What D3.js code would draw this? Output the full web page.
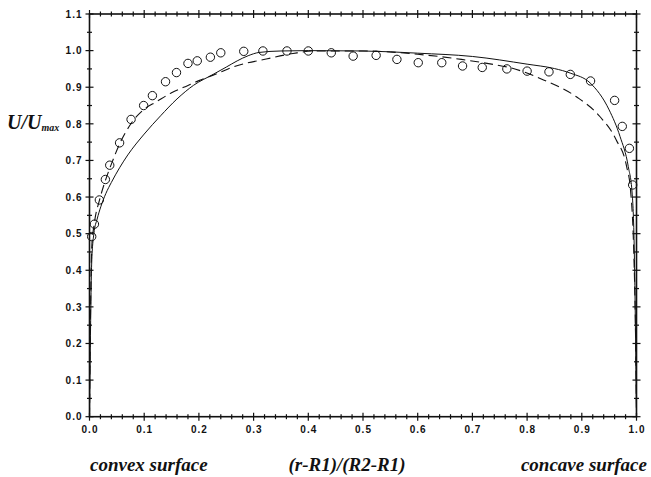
<!DOCTYPE html>
<html>
<head>
<meta charset="utf-8">
<script src="https://cdn.jsdelivr.net/npm/d3@7"></script>
<style>
  body { margin: 0; background: #fff; }
  .tick text { font-family: "Liberation Sans", Arial, sans-serif; font-size: 10px; font-weight: bold; letter-spacing: 1px; fill: #111; }
  .ttl { font-family: "Liberation Serif", "Times New Roman", serif; font-weight: bold; font-style: italic; fill: #111; }
</style>
</head>
<body>
<svg width="651" height="477"></svg>
<script>
const svg = d3.select("svg");

// measured points (circles)
const circX = [0.004, 0.009, 0.018, 0.029, 0.037, 0.055, 0.076, 0.099, 0.115, 0.139, 0.159, 0.180,
  0.197, 0.221, 0.240, 0.282, 0.317, 0.361, 0.400, 0.442, 0.482, 0.524, 0.562, 0.601, 0.644,
  0.682, 0.718, 0.763, 0.800, 0.840, 0.879, 0.916, 0.960, 0.974, 0.987, 0.993];
const circY = [0.492, 0.526, 0.592, 0.648, 0.687, 0.748, 0.812, 0.850, 0.877, 0.915, 0.940, 0.965,
  0.972, 0.982, 0.994, 0.998, 0.999, 0.999, 0.999, 0.994, 0.985, 0.987, 0.976, 0.967, 0.967,
  0.958, 0.954, 0.950, 0.944, 0.942, 0.935, 0.917, 0.864, 0.793, 0.733, 0.633];

// solid curve
const solidX = [0, 0.002, 0.004, 0.008, 0.014, 0.021, 0.03, 0.04, 0.055, 0.07, 0.1, 0.13, 0.16,
  0.19, 0.226, 0.25, 0.27, 0.29, 0.31, 0.35, 0.4, 0.5, 0.6, 0.7, 0.8, 0.85, 0.88, 0.915, 0.95,
  0.97, 0.985, 0.992, 0.996, 0.998, 1.0];
const solidY = [0, 0.25, 0.42, 0.50, 0.54, 0.575, 0.61, 0.64, 0.68, 0.715, 0.772, 0.822, 0.868,
  0.905, 0.935, 0.955, 0.972, 0.986, 0.995, 0.999, 1.0, 0.999, 0.993, 0.984, 0.963, 0.951, 0.938,
  0.912, 0.838, 0.765, 0.683, 0.611, 0.45, 0.25, 0];

// dashed curve
const dashX = [0, 0.002, 0.004, 0.009, 0.018, 0.029, 0.04, 0.055, 0.078, 0.1, 0.122, 0.15, 0.18,
  0.2, 0.226, 0.268, 0.323, 0.372, 0.41, 0.5, 0.6, 0.68, 0.735, 0.77, 0.83, 0.89, 0.933, 0.963,
  0.982, 0.989, 0.995, 0.998, 1.0];
const dashY = [0, 0.3, 0.46, 0.53, 0.59, 0.645, 0.69, 0.745, 0.805, 0.84, 0.86, 0.885, 0.905,
  0.918, 0.933, 0.958, 0.977, 0.992, 0.999, 0.999, 0.99, 0.976, 0.963, 0.953, 0.92, 0.874, 0.82,
  0.756, 0.683, 0.62, 0.45, 0.25, 0];

const xMajor = d3.range(0, 11).map(d => d / 10);
const xMinor = d3.range(0, 51).map(d => d / 50).filter((d, i) => i % 5 !== 0);
const yMajor = d3.range(0, 12).map(d => d / 10);
const yMinor = d3.range(0, 22).map(d => d / 20).filter((d, i) => i % 2 !== 0);

const x = d3.scaleLinear().domain([0, 1]).range([89.5, 636.5]);
const y = d3.scaleLinear().domain([0, 1.1]).range([416.7, 14]);

const black = "#111";

// frame
svg.append("rect")
  .attr("x", x(0)).attr("y", y(1.1))
  .attr("width", x(1) - x(0)).attr("height", y(0) - y(1.1))
  .attr("fill", "none").attr("stroke", black).attr("stroke-width", 1.6);

// crossing ticks, all four sides
function crossTicks(vals, len, horiz) {
  const g = svg.append("g").attr("stroke", black).attr("stroke-width", 1.2);
  if (horiz) {
    [y(0), y(1.1)].forEach(yy => {
      g.selectAll(null).data(vals).join("line")
        .attr("x1", d => x(d)).attr("x2", d => x(d))
        .attr("y1", yy - len).attr("y2", yy + len);
    });
  } else {
    [x(0), x(1)].forEach(xx => {
      g.selectAll(null).data(vals).join("line")
        .attr("y1", d => y(d)).attr("y2", d => y(d))
        .attr("x1", xx - len).attr("x2", xx + len);
    });
  }
}
crossTicks(xMajor, 4, true);
crossTicks(xMinor, 2.5, true);
crossTicks(yMajor, 4, false);
crossTicks(yMinor, 2.5, false);

// tick labels via axes
const xAxis = svg.append("g")
  .attr("transform", `translate(0,${y(0)})`)
  .call(d3.axisBottom(x).tickValues(xMajor).tickFormat(d3.format(".1f")).tickSize(0).tickPadding(9));
const yAxis = svg.append("g")
  .attr("transform", `translate(${x(0)},0)`)
  .call(d3.axisLeft(y).tickValues(yMajor).tickFormat(d3.format(".1f")).tickSize(0).tickPadding(7));
[xAxis, yAxis].forEach(a => { a.select(".domain").remove(); a.attr("font-family", null).attr("font-size", null); });

// curves
const line = d3.line().x(d => x(d[0])).y(d => y(d[1])).curve(d3.curveMonotoneX);

svg.append("path")
  .attr("d", line(d3.zip(solidX, solidY)))
  .attr("fill", "none").attr("stroke", black).attr("stroke-width", 1);

svg.append("path")
  .attr("d", line(d3.zip(dashX, dashY)))
  .attr("fill", "none").attr("stroke", black).attr("stroke-width", 1.1)
  .attr("stroke-dasharray", "9,5");

// measured circles
svg.append("g")
  .selectAll("circle")
  .data(d3.zip(circX, circY))
  .join("circle")
  .attr("cx", d => x(d[0])).attr("cy", d => y(d[1]))
  .attr("r", 4.2)
  .attr("fill", "none").attr("stroke", black).attr("stroke-width", 1);

// titles
const yl = svg.append("text").attr("class", "ttl").attr("x", 7).attr("y", 129).attr("font-size", 20);
yl.append("tspan").text("U/U");
yl.append("tspan").attr("font-size", 10).attr("dy", 2).text("max");

svg.append("text").attr("class", "ttl").attr("x", 90).attr("y", 471).attr("font-size", 19)
  .text("convex surface");
svg.append("text").attr("class", "ttl").attr("x", 347).attr("y", 471).attr("font-size", 19)
  .attr("text-anchor", "middle").text("(r-R1)/(R2-R1)");
svg.append("text").attr("class", "ttl").attr("x", 647).attr("y", 471).attr("font-size", 19)
  .attr("text-anchor", "end").text("concave surface");
</script>
</body>
</html>
